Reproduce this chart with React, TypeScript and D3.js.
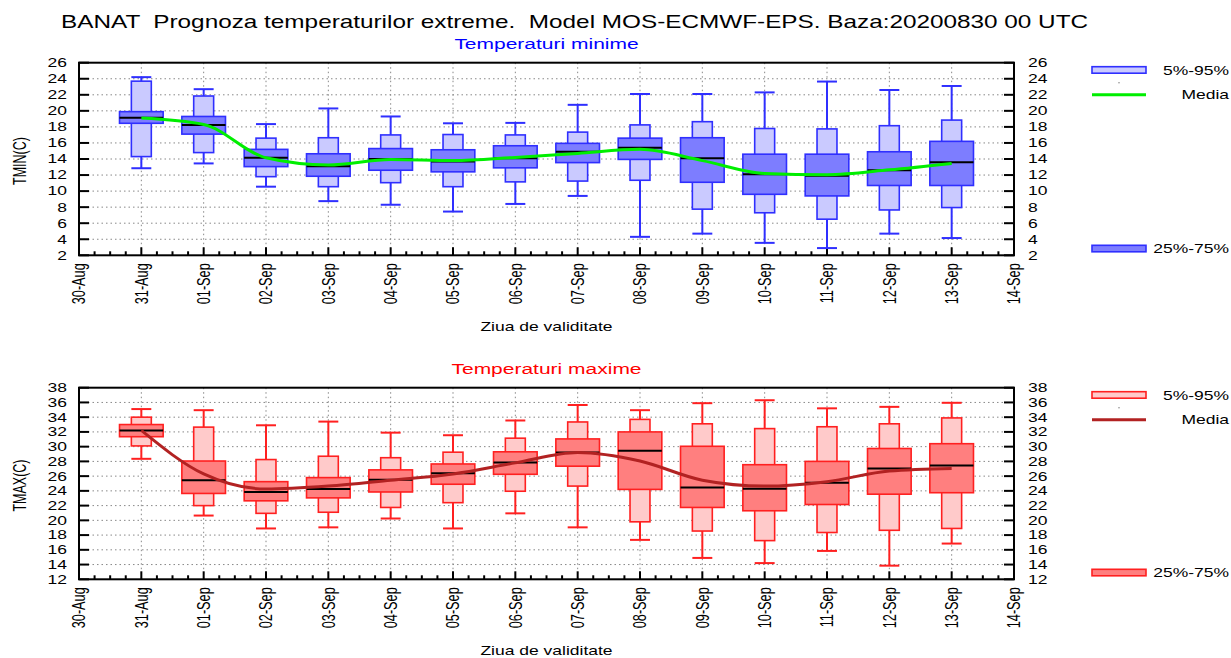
import React from "react";
import * as d3 from "d3";

// ---------- data ----------
const dayLabels = ["30-Aug","31-Aug","01-Sep","02-Sep","03-Sep","04-Sep","05-Sep","06-Sep","07-Sep","08-Sep","09-Sep","10-Sep","11-Sep","12-Sep","13-Sep","14-Sep"];
const forecastDays = ["31-Aug","01-Sep","02-Sep","03-Sep","04-Sep","05-Sep","06-Sep","07-Sep","08-Sep","09-Sep","10-Sep","11-Sep","12-Sep","13-Sep"];

const tminMin = [12.85,13.45,10.55,8.75,8.3,7.45,8.4,9.4,4.3,4.7,3.55,2.9,4.7,4.15];
const tminP5 = [14.3,14.8,11.8,10.55,11.05,10.55,11.15,11.25,11.35,7.75,7.3,6.5,7.65,7.95];
const tminP25 = [18.45,17.1,13.05,11.85,12.6,12.4,12.9,13.55,13.95,11.1,9.6,9.4,10.7,10.7];
const tminMed = [19.15,18.25,14.15,13.1,14.0,13.7,14.1,14.9,15.4,14.1,12.1,11.9,12.6,13.6];
const tminP75 = [19.9,19.3,15.2,14.65,15.3,15.15,15.65,15.95,16.6,16.65,14.6,14.6,14.9,16.2];
const tminP95 = [23.7,21.85,16.6,16.65,17.0,17.05,17.0,17.35,18.25,18.65,17.8,17.75,18.15,18.85];
const tminMax = [24.2,22.7,18.35,20.3,19.3,18.45,18.5,20.75,22.1,22.1,22.3,23.65,22.6,23.1];
const tminMean = [19.1,18.3,14.15,13.25,13.95,13.8,14.2,14.7,15.2,13.8,12.2,12.05,12.65,13.45];

const tmaxMin = [28.35,20.65,18.9,19.05,20.25,18.9,20.95,19.05,17.35,14.9,14.2,15.85,13.85,16.85];
const tmaxP5 = [30.1,22.0,20.95,21.1,21.75,22.4,23.95,24.65,19.8,18.55,17.25,18.35,18.65,18.9];
const tmaxP25 = [31.35,23.65,22.65,23.05,23.85,24.9,26.25,27.35,24.2,21.75,21.3,22.15,23.55,23.75];
const tmaxMed = [32.2,25.45,23.85,24.25,25.5,26.4,27.85,29.2,29.45,24.45,24.3,25.1,27.05,27.45];
const tmaxP75 = [33.0,28.05,25.25,25.8,26.85,27.65,29.3,31.05,32.0,30.05,27.55,28.0,29.75,30.4];
const tmaxP95 = [34.0,32.65,28.25,28.7,28.5,29.25,31.15,33.35,33.7,33.1,32.45,32.7,33.1,33.9];
const tmaxMax = [35.1,34.95,32.9,33.4,31.9,31.55,33.55,35.65,34.95,35.9,36.3,35.2,35.4,35.95];
const tmaxMean = [32.2,26.3,24.25,24.65,25.45,26.3,27.8,29.2,28.05,25.45,24.65,25.25,26.7,27.05];

const tminTicks = [2,4,6,8,10,12,14,16,18,20,22,24,26];
const tmaxTicks = [12,14,16,18,20,22,24,26,28,30,32,34,36,38];

const S = 1.4; // horizontal text stretch
const FONT = "'Liberation Sans', Arial, Helvetica, sans-serif";

type Panel = {
  top: number; bottom: number; domain: [number, number]; ticks: number[];
  min: number[]; p5: number[]; p25: number[]; med: number[]; p75: number[]; p95: number[]; max: number[]; mean: number[];
  stroke: string; light: string; dark: string; meanColor: string;
  title: string; titleColor: string; ylabel: string;
};

const LEFT = 79, RIGHT = 1014;
const x = d3.scaleLinear().domain([0, 15]).range([LEFT, RIGHT]);
const dayIndex = (lab: string) => dayLabels.indexOf(lab);

function SText({ x, y, children, anchor = "start", size = 12.5, fill = "#000", rotate = false, dy = "0.35em", sx = S }: any) {
  const tr = `translate(${x},${y}) scale(${sx},1)` + (rotate ? " rotate(-90)" : "");
  return (
    <text transform={tr} textAnchor={anchor} fontSize={size} fill={fill} dy={dy}
      fontFamily={FONT} style={{ whiteSpace: "pre" }}>{children}</text>
  );
}

function PanelView({ p }: { p: Panel }) {
  const y = d3.scaleLinear().domain(p.domain).range([p.bottom, p.top]);
  const dayW = x(1) - x(0);
  const wide = dayW * 0.7;
  const narrow = dayW * 0.32;
  const line = d3.line<number>()
    .x((_, i) => x(dayIndex(forecastDays[i])))
    .y((v) => y(v))
    .curve(d3.curveMonotoneX);
  const minorTicks: number[] = [];
  for (let d = 0; d < 15; d++) for (let q = 1; q < 4; q++) minorTicks.push(d + q / 4);
  const gridDays = d3.range(1, 15);
  const cx = (LEFT + RIGHT) / 2;
  return (
    <g>
      {/* title */}
      <SText x={cx} y={p.top - 14} anchor="middle" size={15} fill={p.titleColor} dy="0">{p.title}</SText>
      {/* grid */}
      {p.ticks.slice(1, -1).map((t) => (
        <line key={"gy" + t} x1={LEFT} x2={RIGHT} y1={y(t)} y2={y(t)} stroke="#888" strokeWidth={1} strokeDasharray="1.5,3" />
      ))}
      {gridDays.map((d) => (
        <line key={"gx" + d} x1={x(d)} x2={x(d)} y1={p.top} y2={p.bottom} stroke="#888" strokeWidth={1} strokeDasharray="1.5,3" />
      ))}
      {/* ticks */}
      {p.ticks.map((t) => (
        <g key={"t" + t}>
          <line x1={LEFT} x2={LEFT + 10} y1={y(t)} y2={y(t)} stroke="#000" strokeWidth={2} />
          <line x1={RIGHT - 10} x2={RIGHT} y1={y(t)} y2={y(t)} stroke="#000" strokeWidth={2} />
          <SText x={67} y={y(t)} anchor="end">{String(t)}</SText>
          <SText x={1028} y={y(t)} anchor="start">{String(t)}</SText>
        </g>
      ))}
      {dayLabels.map((lab, i) => (
        <g key={"xd" + lab}>
          <line x1={x(i)} x2={x(i)} y1={p.bottom} y2={p.bottom - 8} stroke="#000" strokeWidth={2} />
          <SText x={x(i)} y={p.bottom + 8} anchor="end" rotate size={12.7} sx={1.45}>{lab}</SText>
        </g>
      ))}
      {minorTicks.map((d) => (
        <line key={"mt" + d} x1={x(d)} x2={x(d)} y1={p.bottom} y2={p.bottom - 4} stroke="#000" strokeWidth={2} />
      ))}
      {/* boxes */}
      {forecastDays.map((lab, i) => {
        const cxd = x(dayIndex(lab));
        return (
          <g key={"b" + lab}>
            <line x1={cxd} x2={cxd} y1={y(p.min[i])} y2={y(p.max[i])} stroke={p.stroke} strokeWidth={2} />
            <line x1={cxd - narrow / 2} x2={cxd + narrow / 2} y1={y(p.min[i])} y2={y(p.min[i])} stroke={p.stroke} strokeWidth={2} />
            <line x1={cxd - narrow / 2} x2={cxd + narrow / 2} y1={y(p.max[i])} y2={y(p.max[i])} stroke={p.stroke} strokeWidth={2} />
            <rect x={cxd - narrow / 2} width={narrow} y={y(p.p95[i])} height={y(p.p5[i]) - y(p.p95[i])}
              fill={p.light} stroke={p.stroke} strokeWidth={1.6} />
            <rect x={cxd - wide / 2} width={wide} y={y(p.p75[i])} height={y(p.p25[i]) - y(p.p75[i])}
              fill={p.dark} stroke={p.stroke} strokeWidth={1.6} />
            <line x1={cxd - wide / 2} x2={cxd + wide / 2} y1={y(p.med[i])} y2={y(p.med[i])} stroke="#000" strokeWidth={2} />
          </g>
        );
      })}
      <path d={line(p.mean) || ""} fill="none" stroke={p.meanColor} strokeWidth={3} />
      {/* frame */}
      <rect x={LEFT} y={p.top} width={RIGHT - LEFT} height={p.bottom - p.top} fill="none" stroke="#000" strokeWidth={2} />
      {/* axis titles */}
      <SText x={20} y={(p.top + p.bottom) / 2 + 2} anchor="middle" rotate size={12.5}>{p.ylabel}</SText>
      <SText x={cx} y={p.bottom + 75.5} anchor="middle" size={12.5} dy="0">Ziua de validitate</SText>
      {/* legend */}
      <rect x={1092} y={p.top + 4} width={54} height={6.5} fill={p.light} stroke={p.stroke} strokeWidth={1.6} />
      <SText x={1229} y={p.top + 7.5} anchor="end">5%-95%</SText>
      <circle cx={1119} cy={p.top + 20} r={0.7} fill="#777" />
      <line x1={1092} x2={1146} y1={p.top + 32} y2={p.top + 32} stroke={p.meanColor} strokeWidth={3} />
      <SText x={1229} y={p.top + 32} anchor="end">Media</SText>
      <rect x={1092} y={p.bottom - 10} width={54} height={6.5} fill={p.dark} stroke={p.stroke} strokeWidth={1.6} />
      <SText x={1229} y={p.bottom - 7} anchor="end">25%-75%</SText>
    </g>
  );
}

const topPanel: Panel = {
  top: 62.7, bottom: 255.3, domain: [2, 26], ticks: tminTicks,
  min: tminMin, p5: tminP5, p25: tminP25, med: tminMed, p75: tminP75, p95: tminP95, max: tminMax, mean: tminMean,
  stroke: "#2f2fff", light: "#cacaff", dark: "#7d7dff", meanColor: "#00ee00",
  title: "Temperaturi minime", titleColor: "#0000ff", ylabel: "TMIN(C)",
};
const bottomPanel: Panel = {
  top: 387.7, bottom: 579.3, domain: [12, 38], ticks: tmaxTicks,
  min: tmaxMin, p5: tmaxP5, p25: tmaxP25, med: tmaxMed, p75: tmaxP75, p95: tmaxP95, max: tmaxMax, mean: tmaxMean,
  stroke: "#ff2020", light: "#ffcaca", dark: "#ff7f7f", meanColor: "#b22222",
  title: "Temperaturi maxime", titleColor: "#ff0000", ylabel: "TMAX(C)",
};

export default function App() {
  return (
    <svg width={1231} height={658} style={{ position: "absolute", left: 0, top: 0, background: "#fff" }}>
      <rect width={1231} height={658} fill="#fff" />
      <SText x={61} y={27.7} size={17.5} sx={1.39} dy="0">{"BANAT  Prognoza temperaturilor extreme.  Model MOS-ECMWF-EPS. Baza:20200830 00 UTC"}</SText>
      <PanelView p={topPanel} />
      <PanelView p={bottomPanel} />
    </svg>
  );
}
